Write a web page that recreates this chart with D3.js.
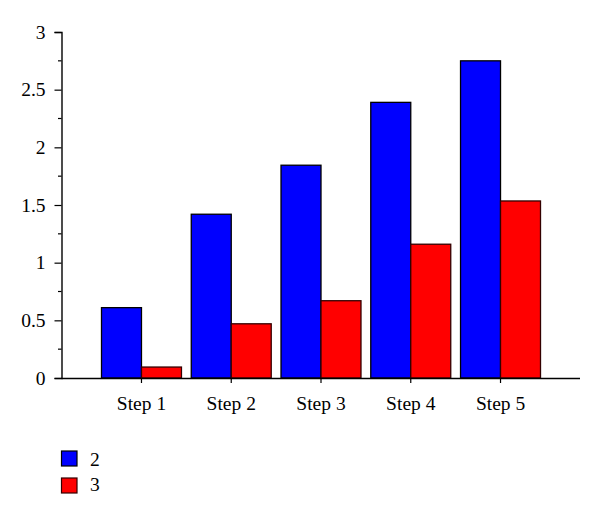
<!DOCTYPE html>
<html><head><meta charset="utf-8">
<script src="https://cdn.jsdelivr.net/npm/d3@7"></script>
<style>body{margin:0;background:#fff}svg{display:block}text{font-family:"Liberation Serif","DejaVu Serif",serif;fill:#000}</style>
</head><body><svg id="c" width="600" height="521"></svg>
<script>
const categories = ["Step 1","Step 2","Step 3","Step 4","Step 5"];
const seriesNames = ["2","3"];
const series2 = [0.61, 1.42, 1.845, 2.39, 2.75];
const series3 = [0.095, 0.47, 0.67, 1.16, 1.535];
const yTicks = [0, 0.5, 1, 1.5, 2, 2.5, 3];
const yTickLabels = ["0","0.5","1","1.5","2","2.5","3"];
const colors = ["#0000ff", "#ff0000"];

const svg = d3.select("#c");
const x = d3.scaleBand().domain(categories).range([62, 580]).paddingInner(0.109).paddingOuter(0.44);
const xs = d3.scaleBand().domain(seriesNames).range([0, x.bandwidth()]);
const y = d3.scaleLinear().domain([0, 3]).range([378, 32]);

const data = [series2, series3];
const g = svg.append("g");
seriesNames.forEach((s, si) => {
  g.selectAll(null).data(categories).enter().append("rect")
    .attr("x", d => x(d) + xs(s))
    .attr("y", (d, i) => y(data[si][i]))
    .attr("width", xs.bandwidth())
    .attr("height", (d, i) => y(0) - y(data[si][i]))
    .attr("fill", colors[si])
    .attr("stroke", si === 0 ? "#000" : "#300")
    .attr("stroke-width", 1.3);
});

// y axis
const ya = svg.append("g").attr("transform", "translate(61.5,0)")
  .call(d3.axisLeft(y).tickValues(yTicks).tickFormat((d, i) => yTickLabels[i]).tickSizeOuter(0).tickSize(7).tickPadding(9));
ya.select(".domain").attr("stroke-width", 1.4);
ya.selectAll(".tick line").attr("stroke-width", 1.2);
ya.selectAll("text").style("font-size", "19.5px").attr("font-family", null);
// minor ticks
const minor = d3.range(0.25, 3, 0.5);
svg.append("g").selectAll("line").data(minor).enter().append("line")
  .attr("x1", 58).attr("x2", 61.5)
  .attr("y1", d => y(d)).attr("y2", d => y(d))
  .attr("stroke", "#000").attr("stroke-width", 1.2);

// x axis
const xa = svg.append("g").attr("transform", "translate(0,378)")
  .call(d3.axisBottom(x).tickSizeOuter(0).tickSize(5).tickPadding(13));
xa.select(".domain").attr("d", "M61.5,0.5H580").attr("stroke-width", 1.4);
xa.selectAll(".tick line").attr("stroke-width", 1.2);
xa.selectAll("text").style("font-size", "19.5px").attr("font-family", null);

// legend
const lg = svg.append("g");
seriesNames.forEach((s, i) => {
  lg.append("rect").attr("x", 61.5).attr("y", 451 + i * 27).attr("width", 15.5).attr("height", 15)
    .attr("fill", colors[i]).attr("stroke", i === 0 ? "#000" : "#300").attr("stroke-width", 1.2);
  lg.append("text").attr("x", 90).attr("y", 466 + i * 25).style("font-size", "19.5px").text(s);
});
</script></body></html>
